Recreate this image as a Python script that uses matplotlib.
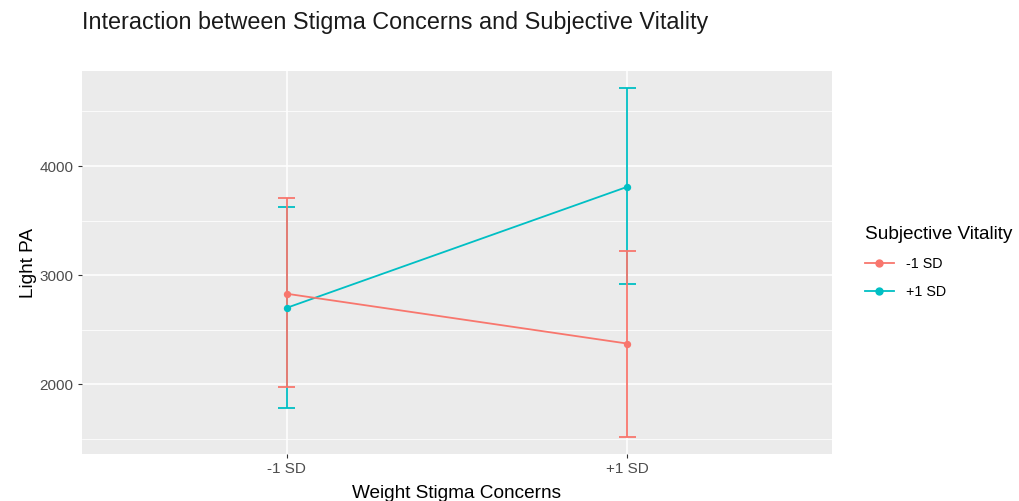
import numpy as np
import matplotlib.pyplot as plt
from matplotlib.lines import Line2D
from matplotlib.ticker import MultipleLocator

plt.rcParams['font.family'] = ['Liberation Sans', 'DejaVu Sans']

# data
x_labels = ['-1 SD', '+1 SD']
groups = ['-1 SD', '+1 SD']
colors = ['#F8766D', '#00BFC4']
means = {'-1 SD': [2830, 2373], '+1 SD': [2700, 3810]}
lower = {'-1 SD': [1973, 1521], '+1 SD': [1784, 2918]}
upper = {'-1 SD': [3704, 3222], '+1 SD': [3628, 4711]}

fig = plt.figure(figsize=(10.19, 5.01), dpi=100)
ax = fig.add_axes([82 / 1019, 1 - 454 / 501, 750 / 1019, 383 / 501])
ax.set_facecolor('#EBEBEB')

xs = np.arange(1, len(x_labels) + 1)

# teal first so the red bars sit on top, as in the original
for g, c in reversed(list(zip(groups, colors))):
    lo = np.array(lower[g])
    hi = np.array(upper[g])
    ax.vlines(xs, lo, hi, color=c, lw=1.3, zorder=3)
    ax.hlines(lo, xs - 0.025, xs + 0.025, color=c, lw=1.3, zorder=3)
    ax.hlines(hi, xs - 0.025, xs + 0.025, color=c, lw=1.3, zorder=3)
    ax.plot(xs, means[g], color=c, lw=1.3, zorder=4)
    ax.scatter(xs, means[g], color=c, s=28, zorder=5, linewidths=0)

allv = np.concatenate([np.array(lower[g] + upper[g]) for g in groups])
pad = (allv.max() - allv.min()) * 0.05
ax.set_ylim(allv.min() - pad, allv.max() + pad)
ax.set_xlim(0.4, len(x_labels) + 0.6)

ax.set_xticks(xs)
ax.set_xticklabels(x_labels)
ax.yaxis.set_major_locator(MultipleLocator(1000))
ax.yaxis.set_minor_locator(MultipleLocator(500))
ax.grid(which='major', color='white', lw=1.1, zorder=0)
ax.grid(which='minor', axis='y', color='white', lw=0.55, zorder=0)
ax.set_axisbelow(True)
for s in ax.spines.values():
    s.set_visible(False)
ax.tick_params(which='major', length=3, color='#333333', labelcolor='#4D4D4D',
               labelsize=11, pad=3)
ax.tick_params(which='minor', length=0)

ax.set_xlabel('Weight Stigma Concerns', fontsize=13.7, labelpad=6.5)
ax.set_ylabel('Light PA', fontsize=13.7, labelpad=2)
fig.text(82 / 1019, 1 - 23 / 501, 'Interaction between Stigma Concerns and Subjective Vitality',
         fontsize=16.8, va='center', ha='left', color='#1A1A1A')

handles = [Line2D([0], [0], color=c, lw=1.3, marker='o', markersize=5) for c in colors]
leg = ax.legend(handles, groups, title='Subjective Vitality', loc='center left',
                frameon=False, fontsize=10.3, title_fontsize=13.7,
                handlelength=2.0, handletextpad=0.85, labelspacing=1.0,
                alignment='left', borderaxespad=0, borderpad=0)
leg.set_bbox_to_anchor((1.044, 0.5), transform=ax.transAxes)

fig.savefig('out.png', dpi=100)
